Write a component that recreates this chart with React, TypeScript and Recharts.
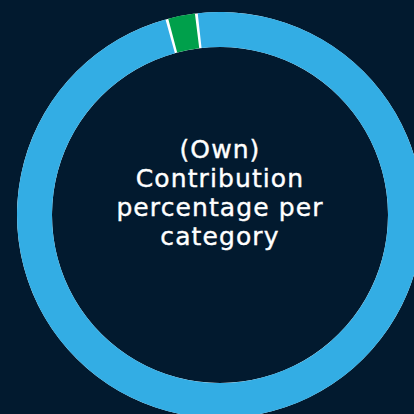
import { PieChart, Pie, Cell } from "recharts";

const categories = ["Category B", "Category A"];
const shares = [2.14, 97.86];
const colors = ["#00a04b", "#33ade4"];
const titleLines = ["(Own)", "Contribution", "percentage per", "category"];

const data = categories.map((name, i) => ({ name, value: shares[i] }));
const ring = [{ name: "ring", value: 1 }];

export default function App() {
  return (
    <div
      style={{
        position: "fixed",
        left: 0,
        top: 0,
        width: 414,
        height: 414,
        background: "#021a2f",
        overflow: "hidden",
      }}
    >
      <PieChart width={414} height={414} margin={{ top: 0, right: 0, bottom: 0, left: 0 }}>
        {/* white ring underneath so the gaps read as separators */}
        <Pie
          data={ring}
          dataKey="value"
          cx={220}
          cy={215}
          innerRadius={168}
          outerRadius={203}
          stroke="none"
          fill="#ffffff"
          isAnimationActive={false}
        />
        <Pie
          data={data}
          dataKey="value"
          cx={220}
          cy={215}
          innerRadius={168}
          outerRadius={203}
          startAngle={97.1}
          endAngle={457.1}
          paddingAngle={0.8}
          stroke="none"
          isAnimationActive={false}
        >
          {data.map((d, i) => (
            <Cell key={d.name} fill={colors[i]} />
          ))}
        </Pie>
      </PieChart>
      <div
        style={{
          position: "absolute",
          left: 0,
          width: 440,
          top: 135,
          textAlign: "center",
          color: "#ffffff",
          fontFamily: "'DejaVu Sans', sans-serif",
          fontSize: 25,
          letterSpacing: 1.1,
          lineHeight: "29px",
          WebkitTextStroke: "0.4px #ffffff",
        }}
      >
        {titleLines.map((t) => (
          <div key={t}>{t}</div>
        ))}
      </div>
    </div>
  );
}
